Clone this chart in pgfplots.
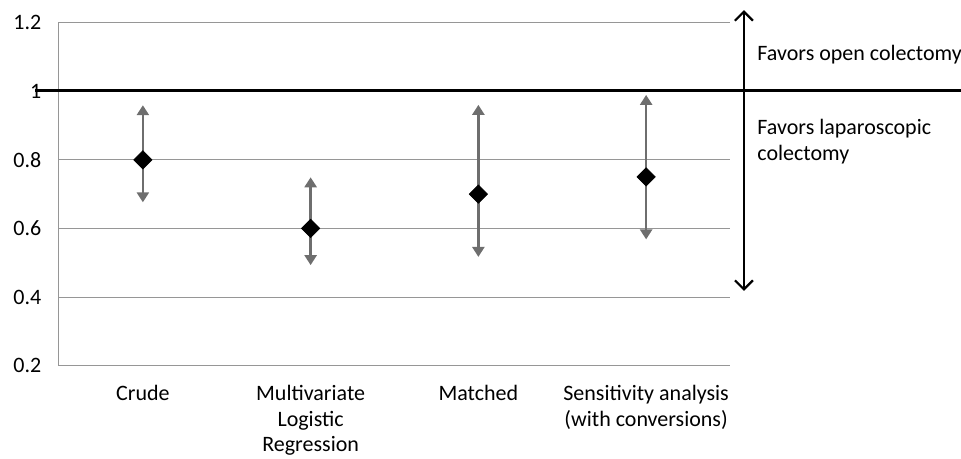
\documentclass[border=0pt]{standalone}
\usepackage{fontspec}
\setmainfont{Carlito}
\usepackage{pgfplots}
\pgfplotsset{compat=1.18}
\usetikzlibrary{arrows.meta}
\definecolor{gridc}{RGB}{150,150,150}
\definecolor{cic}{RGB}{110,110,110}
\begin{document}
\fontsize{11}{13.2}\selectfont
\begin{tikzpicture}
\path[use as bounding box] (-29.5pt,-46.5pt) rectangle (451pt,182.85pt);
\begin{axis}[
  at={(0,0)}, anchor=south west,
  scale only axis, width=335.5pt, height=171.6pt,
  xmin=-0.5, xmax=3.5, ymin=0.2, ymax=1.2,
  xtick={0,1,2,3},
  xticklabels={Crude, Multivariate\\Logistic\\Regression, Matched, Sensitivity analysis\\(with conversions)},
  ytick={0.2,0.4,0.6,0.8,1,1.2},
  yticklabels={0.2,0.4,0.6,0.8,1,1.2},
  ymajorgrids, grid style={gridc, line width=0.5pt},
  major tick length=0pt,
  axis x line*=bottom, axis y line*=left,
  axis line style={gridc, line width=0.5pt, -},
  x tick label style={align=center, font=\fontsize{11}{12.8}\selectfont, yshift=-6pt},
  y tick label style={font=\fontsize{11}{13.2}\selectfont, xshift=-5pt},
  /pgf/number format/assume math mode=true,
  clip=false,
]
% reference line at 1
\addplot[black, line width=1.5pt] coordinates {(-0.643,1.003) (4.877,1.003)};
% confidence intervals
\addplot[cic, line width=1.3pt, {Triangle[length=5pt,width=6pt]}-{Triangle[length=5pt,width=6pt]}] coordinates {(0,0.676) (0,0.959)};
\addplot[cic, line width=1.3pt, {Triangle[length=5pt,width=6pt]}-{Triangle[length=5pt,width=6pt]}] coordinates {(1,0.493) (1,0.749)};
\addplot[cic, line width=1.3pt, {Triangle[length=5pt,width=6pt]}-{Triangle[length=5pt,width=6pt]}] coordinates {(2,0.517) (2,0.960)};
\addplot[cic, line width=1.3pt, {Triangle[length=5pt,width=6pt]}-{Triangle[length=5pt,width=6pt]}] coordinates {(3,0.568) (3,0.989)};
% point estimates
\addplot[only marks, mark=square*, mark size=3.2pt, mark options={rotate=45, fill=black, draw=black}] coordinates {(0,0.8) (1,0.6) (2,0.7) (3,0.75)};
% direction arrow
\draw[black, line width=1.1pt, {Straight Barb[length=4.5pt,width=9pt]}-{Straight Barb[length=4.5pt,width=9pt]}] (axis cs:3.583,0.418) -- (axis cs:3.583,1.236);
\node[anchor=west, inner sep=0pt] at (axis cs:3.661,1.105) {Favors open colectomy};
\node[anchor=west, inner sep=0pt, align=left] at (axis cs:3.661,0.853) {Favors laparoscopic\\colectomy};
\end{axis}
\end{tikzpicture}
\end{document}
